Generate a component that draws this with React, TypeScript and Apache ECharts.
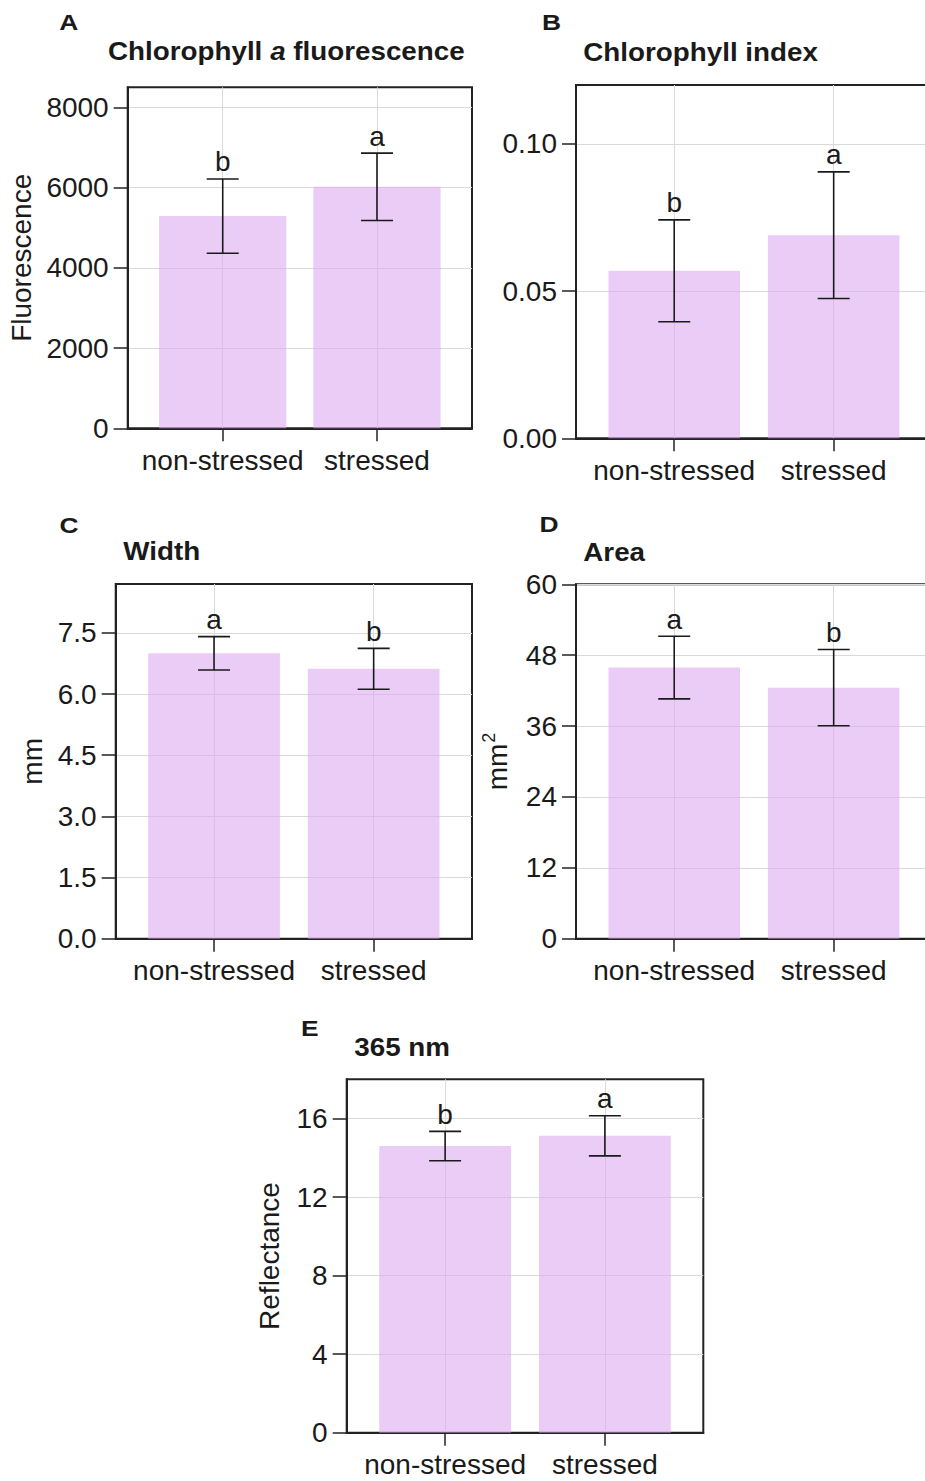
import React, { useEffect, useRef } from 'react';
import * as echarts from 'echarts';

// ---------- data ----------
const categories = ['non-stressed', 'stressed'];

const fluorescenceMean = [5290, 6020];
const fluorescenceSd = [925, 840];
const fluorescenceLetters = ['b', 'a'];
const fluorescenceTicks = [0, 2000, 4000, 6000, 8000];

const chlIndexMean = [0.0569, 0.069];
const chlIndexSd = [0.0173, 0.0215];
const chlIndexLetters = ['b', 'a'];
const chlIndexTicks = [0, 0.05, 0.1];

const widthMean = [7.0, 6.62];
const widthSd = [0.41, 0.5];
const widthLetters = ['a', 'b'];
const widthTicks = [0, 1.5, 3, 4.5, 6, 7.5];

const areaMean = [45.9, 42.5];
const areaSd = [5.3, 6.45];
const areaLetters = ['a', 'b'];
const areaTicks = [0, 12, 24, 36, 48, 60];

const reflMean = [14.6, 15.12];
const reflSd = [0.75, 1.02];
const reflLetters = ['b', 'a'];
const reflTicks = [0, 4, 8, 12, 16];

// ---------- layout / style ----------
const FONT = '"Liberation Sans", Arial, Helvetica, sans-serif';
const INK = '#1a1a1a';
const BAR = 'rgba(222,170,240,0.6)';
const GRIDLINE = '#dadada';
const PAD = 0.616;

const panels = [
  {
    tag: 'A', title: 'Chlorophyll {i|a} fluorescence', yName: 'Fluorescence',
    mean: fluorescenceMean, sd: fluorescenceSd, letters: fluorescenceLetters, ticks: fluorescenceTicks,
    max: 8500, decimals: 0,
    grid: { left: 127.7, top: 87.3, width: 344.3, height: 341 },
    tagPos: [59.3, 22], titlePos: [108, 51.7], nameGap: 92,
  },
  {
    tag: 'B', title: 'Chlorophyll index', yName: '',
    mean: chlIndexMean, sd: chlIndexSd, letters: chlIndexLetters, ticks: chlIndexTicks,
    max: 0.12, decimals: 2,
    grid: { left: 576, top: 85, width: 355.9, height: 353.3 },
    tagPos: [542, 22], titlePos: [583.3, 52.7], nameGap: 80,
  },
  {
    tag: 'C', title: 'Width', yName: 'mm',
    mean: widthMean, sd: widthSd, letters: widthLetters, ticks: widthTicks,
    max: 8.7, decimals: 1,
    grid: { left: 115.7, top: 584, width: 356.3, height: 354.7 },
    tagPos: [59.5, 525], titlePos: [123.3, 551.7], nameGap: 69,
  },
  {
    tag: 'D', title: 'Area', yName: 'mm{sup|2}',
    mean: areaMean, sd: areaSd, letters: areaLetters, ticks: areaTicks,
    max: 60, decimals: 0,
    grid: { left: 576, top: 584.3, width: 355.9, height: 354.4 },
    tagPos: [539.5, 524.3], titlePos: [583.3, 552.7], nameGap: 62,
  },
  {
    tag: 'E', title: '365 nm', yName: 'Reflectance',
    mean: reflMean, sd: reflSd, letters: reflLetters, ticks: reflTicks,
    max: 18, decimals: 0,
    grid: { left: 346.7, top: 1079.3, width: 356.6, height: 353.4 },
    tagPos: [301, 1028.3], titlePos: [354.3, 1047.3], nameGap: 63,
  },
];

function buildOption() {
  const grid: any[] = [];
  const xAxis: any[] = [];
  const yAxis: any[] = [];
  const series: any[] = [];
  const graphic: any[] = [];

  panels.forEach((p, i) => {
    grid.push({
      ...p.grid,
      show: true,
      borderColor: '#222',
      borderWidth: 2,
      backgroundColor: 'transparent',
      containLabel: false,
      outerBoundsMode: 'none',
    });
    xAxis.push({
      type: 'value',
      gridIndex: i,
      min: -PAD,
      max: 1 + PAD,
      axisLine: { show: true, onZero: false, lineStyle: { color: '#222', width: 2 } },
      axisTick: { show: true, length: 13, lineStyle: { color: '#222', width: 1.5 }, customValues: [0, 1] },
      axisLabel: {
        show: true,
        customValues: [0, 1],
        margin: 18,
        fontSize: 28,
        fontFamily: FONT,
        color: INK,
        formatter: (v: number) => categories[Math.round(v)] ?? '',
      },
      splitLine: { show: true, lineStyle: { color: GRIDLINE, width: 1 } },
    });
    yAxis.push({
      type: 'value',
      gridIndex: i,
      min: 0,
      max: p.max,
      name: p.yName,
      nameLocation: 'middle',
      nameRotate: 90,
      nameGap: p.nameGap,
      nameTextStyle: {
        fontSize: 28,
        fontFamily: FONT,
        color: INK,
        rich: { sup: { fontSize: 18, fontFamily: FONT, color: INK, padding: [0, 0, 16, 1] } },
      },
      axisLine: { show: true, onZero: false, lineStyle: { color: '#222', width: 2 } },
      axisTick: { show: true, length: 14, lineStyle: { color: '#222', width: 1.5 }, customValues: p.ticks },
      axisLabel: {
        show: true,
        customValues: p.ticks,
        margin: 19,
        fontSize: 28,
        fontFamily: FONT,
        color: INK,
        formatter: (v: number) => v.toFixed(p.decimals),
      },
      splitLine: { show: true, lineStyle: { color: GRIDLINE, width: 1 } },
    });

    const spacing = p.grid.width / (1 + 2 * PAD);
    series.push({
      type: 'bar',
      xAxisIndex: i,
      yAxisIndex: i,
      barWidth: spacing * 0.825,
      itemStyle: { color: BAR },
      silent: true,
      data: p.mean.map((m, j) => [j, m]),
    });
    series.push({
      type: 'custom',
      xAxisIndex: i,
      yAxisIndex: i,
      silent: true,
      z: 5,
      data: p.mean.map((m, j) => [j, m - p.sd[j], m + p.sd[j]]),
      renderItem: (params: any, api: any) => {
        const x = api.value(0);
        const lo = api.coord([x, api.value(1)]);
        const hi = api.coord([x, api.value(2)]);
        const cx = lo[0];
        const half = 16;
        const ls = { stroke: INK, lineWidth: 1.6 };
        return {
          type: 'group',
          children: [
            { type: 'line', shape: { x1: cx, y1: lo[1], x2: cx, y2: hi[1] }, style: ls },
            { type: 'line', shape: { x1: cx - half, y1: lo[1], x2: cx + half, y2: lo[1] }, style: ls },
            { type: 'line', shape: { x1: cx - half, y1: hi[1], x2: cx + half, y2: hi[1] }, style: ls },
            {
              type: 'text',
              x: cx,
              y: hi[1] - 3,
              style: {
                text: p.letters[params.dataIndex],
                fontSize: 28,
                fontFamily: FONT,
                fill: INK,
                align: 'center',
                verticalAlign: 'bottom',
              },
            },
          ],
        };
      },
    });

    graphic.push({
      type: 'text',
      x: p.tagPos[0],
      y: p.tagPos[1],
      scaleX: 1.2,
      style: {
        text: p.tag, fontSize: 22, fontWeight: 'bold', fontFamily: FONT, fill: INK,
        align: 'left', verticalAlign: 'middle',
      },
    });
    graphic.push({
      type: 'text',
      x: p.titlePos[0],
      y: p.titlePos[1],
      scaleX: 1.09,
      style: {
        text: p.title,
        fontSize: 25.5,
        fontWeight: 'bold',
        fontFamily: FONT,
        fill: INK,
        align: 'left',
        verticalAlign: 'middle',
        rich: {
          i: { fontSize: 25.5, fontWeight: 'bold', fontStyle: 'italic', fontFamily: FONT, fill: INK },
        },
      },
    });
  });

  return {
    animation: false,
    backgroundColor: '#ffffff',
    grid,
    xAxis,
    yAxis,
    series,
    graphic,
  };
}

export default function App() {
  const ref = useRef<HTMLDivElement>(null);
  useEffect(() => {
    if (!ref.current) return;
    const chart = echarts.init(ref.current, undefined, { renderer: 'svg' });
    chart.setOption(buildOption() as any);
    return () => chart.dispose();
  }, []);
  return (
    <div
      ref={ref}
      style={{ position: 'absolute', left: 0, top: 0, width: 925, height: 1481, background: '#fff' }}
    />
  );
}
